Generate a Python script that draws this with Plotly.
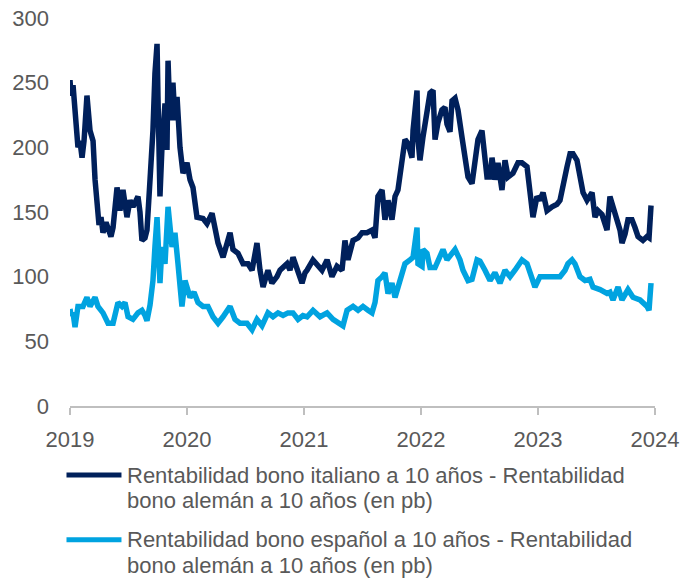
import plotly.graph_objects as go

# Decimal-year positions and values (pb)
t_italia = [2019.000, 2019.009, 2019.026, 2019.043, 2019.060, 2019.068, 2019.085, 2019.103, 2019.120, 2019.145,
            2019.171, 2019.197, 2019.214, 2019.231, 2019.248, 2019.265, 2019.282, 2019.308, 2019.325, 2019.350,
            2019.368, 2019.402, 2019.427, 2019.453, 2019.487, 2019.513, 2019.538, 2019.581, 2019.598, 2019.615,
            2019.641, 2019.658, 2019.684, 2019.709, 2019.726, 2019.744, 2019.752, 2019.769, 2019.786, 2019.812,
            2019.829, 2019.838, 2019.855, 2019.880, 2019.897, 2019.915, 2019.940, 2019.966, 2020.000, 2020.026,
            2020.051, 2020.085, 2020.137, 2020.171, 2020.214, 2020.239, 2020.265, 2020.308, 2020.368, 2020.393,
            2020.436, 2020.479, 2020.521, 2020.556, 2020.598, 2020.624, 2020.650, 2020.692, 2020.726, 2020.769,
            2020.795, 2020.855, 2020.880, 2020.906, 2020.949, 2020.983, 2021.009, 2021.026, 2021.077, 2021.120,
            2021.154, 2021.197, 2021.239, 2021.282, 2021.325, 2021.350, 2021.376, 2021.419, 2021.462, 2021.496,
            2021.538, 2021.581, 2021.607, 2021.632, 2021.667, 2021.692, 2021.718, 2021.752, 2021.778, 2021.803,
            2021.838, 2021.863, 2021.889, 2021.923, 2021.932, 2021.966, 2021.974, 2021.991, 2022.017, 2022.051,
            2022.077, 2022.103, 2022.120, 2022.145, 2022.179, 2022.205, 2022.222, 2022.248, 2022.265, 2022.291,
            2022.316, 2022.350, 2022.376, 2022.402, 2022.436, 2022.462, 2022.487, 2022.521, 2022.547, 2022.564,
            2022.590, 2022.607, 2022.632, 2022.658, 2022.692, 2022.718, 2022.744, 2022.786, 2022.829, 2022.863,
            2022.906, 2022.932, 2022.957, 2022.991, 2023.017, 2023.043, 2023.077, 2023.120, 2023.162, 2023.188,
            2023.214, 2023.248, 2023.274, 2023.299, 2023.333, 2023.359, 2023.385, 2023.419, 2023.462, 2023.487,
            2023.513, 2023.547, 2023.590, 2023.615, 2023.641, 2023.675, 2023.701, 2023.718, 2023.744, 2023.769,
            2023.803, 2023.829, 2023.855, 2023.897, 2023.932, 2023.949, 2023.966]
v_italia = [252, 240, 248, 230, 216, 200, 205, 192, 205, 240,
            213, 205, 175, 151, 140, 146, 134, 142, 136, 131,
            138, 169, 151, 167, 146, 159, 154, 162, 150, 128,
            130, 136, 175, 213, 257, 280, 239, 162, 200, 234,
            198, 267, 221, 250, 221, 239, 200, 180, 188, 175,
            169, 146, 145, 141, 149, 136, 126, 115, 134, 121,
            118, 110, 110, 105, 126, 105, 92, 105, 95, 100,
            105, 110, 105, 115, 105, 95, 103, 105, 113, 108,
            105, 113, 100, 108, 105, 128, 113, 128, 130, 134,
            134, 136, 130, 162, 167, 144, 159, 144, 162, 167,
            188, 206, 203, 192, 213, 244, 206, 190, 208, 226,
            242, 244, 206, 219, 229, 231, 218, 212, 236, 238,
            229, 208, 192, 177, 172, 192, 206, 213, 195, 177,
            177, 192, 175, 188, 167, 190, 177, 180, 188, 188,
            185, 165, 146, 162, 159, 165, 151, 154, 156, 159,
            172, 185, 195, 195, 190, 177, 165, 159, 165, 146,
            151, 148, 136, 162, 154, 146, 136, 126, 133, 144,
            144, 138, 131, 128, 131, 130, 155]

t_espana = [2019.000, 2019.009, 2019.026, 2019.043, 2019.068, 2019.111, 2019.145, 2019.171, 2019.214, 2019.239,
            2019.282, 2019.325, 2019.368, 2019.410, 2019.444, 2019.470, 2019.496, 2019.538, 2019.581, 2019.615,
            2019.641, 2019.658, 2019.684, 2019.709, 2019.726, 2019.744, 2019.769, 2019.786, 2019.812, 2019.838,
            2019.872, 2019.897, 2019.923, 2019.957, 2019.983, 2020.026, 2020.060, 2020.094, 2020.137, 2020.179,
            2020.222, 2020.265, 2020.308, 2020.368, 2020.410, 2020.453, 2020.513, 2020.556, 2020.598, 2020.641,
            2020.692, 2020.735, 2020.778, 2020.821, 2020.863, 2020.906, 2020.949, 2020.991, 2021.026, 2021.077,
            2021.137, 2021.197, 2021.248, 2021.308, 2021.333, 2021.368, 2021.419, 2021.462, 2021.504, 2021.547,
            2021.581, 2021.607, 2021.632, 2021.667, 2021.692, 2021.718, 2021.752, 2021.778, 2021.803, 2021.838,
            2021.863, 2021.906, 2021.932, 2021.966, 2021.974, 2022.009, 2022.017, 2022.051, 2022.077, 2022.120,
            2022.145, 2022.188, 2022.222, 2022.265, 2022.291, 2022.333, 2022.359, 2022.402, 2022.436, 2022.479,
            2022.504, 2022.547, 2022.590, 2022.632, 2022.675, 2022.718, 2022.761, 2022.803, 2022.863, 2022.906,
            2022.949, 2022.974, 2023.017, 2023.060, 2023.128, 2023.188, 2023.231, 2023.256, 2023.291, 2023.316,
            2023.359, 2023.402, 2023.444, 2023.470, 2023.530, 2023.590, 2023.615, 2023.641, 2023.684, 2023.718,
            2023.769, 2023.812, 2023.872, 2023.932, 2023.949, 2023.966]
v_espana = [75, 70, 72, 61, 77, 77, 84, 77, 84, 77,
            72, 64, 64, 80, 77, 80, 69, 67, 72, 74,
            70, 66, 78, 97, 123, 146, 95, 123, 110, 154,
            123, 134, 110, 77, 97, 84, 88, 80, 77, 77,
            69, 64, 69, 77, 67, 64, 64, 59, 67, 62,
            72, 69, 72, 70, 72, 72, 67, 70, 69, 74,
            69, 72, 67, 64, 62, 74, 77, 74, 77, 74,
            72, 80, 97, 100, 103, 87, 95, 84, 92, 100,
            110, 113, 115, 138, 110, 108, 121, 118, 107, 107,
            113, 121, 113, 118, 121, 113, 105, 97, 98, 113,
            112, 105, 97, 103, 95, 105, 100, 105, 113, 110,
            97, 92, 100, 100, 100, 100, 105, 110, 113, 110,
            100, 97, 98, 92, 90, 87, 88, 82, 92, 82,
            90, 84, 82, 77, 74, 95]

years = [2019, 2020, 2021, 2022, 2023, 2024]
year_labels = ["2019", "2020", "2021", "2022", "2023", "2024"]
y_ticks = [0, 50, 100, 150, 200, 250, 300]

name_it = ["Rentabilidad bono italiano a 10 años - Rentabilidad", "bono alemán a 10 años (en pb)"]
name_es = ["Rentabilidad bono español a 10 años - Rentabilidad", "bono alemán a 10 años (en pb)"]

DARK = "#00205b"
LIGHT = "#00a3e0"
GREY = "#595959"
FONT = "Liberation Sans, Arial, sans-serif"

fig = go.Figure()
fig.add_trace(go.Scatter(x=t_italia, y=v_italia, mode="lines",
                         line=dict(color=DARK, width=5.5), name=" ".join(name_it), showlegend=False))
fig.add_trace(go.Scatter(x=t_espana, y=v_espana, mode="lines",
                         line=dict(color=LIGHT, width=5.5), name=" ".join(name_es), showlegend=False))

# custom legend (lines + text)
leg_rows = [(name_it, DARK, -0.178, -0.243), (name_es, LIGHT, -0.345, -0.412)]
for names, col, y1, y2 in leg_rows:
    fig.add_shape(type="line", xref="paper", yref="paper", x0=-0.006, x1=0.088, y0=y1, y1=y1,
                  line=dict(color=col, width=5))
    for txt, yy in zip(names, (y1, y2)):
        fig.add_annotation(text=txt, xref="paper", yref="paper", x=0.094, y=yy,
                           xanchor="left", yanchor="middle", showarrow=False,
                           font=dict(family=FONT, size=22, color=GREY))

# page body has an 8px margin: size the figure so the plot area lands where the reference has it
fig.update_layout(
    width=684, height=571,
    margin=dict(l=62, r=37, t=10, b=173, autoexpand=False),
    paper_bgcolor="white", plot_bgcolor="white",
    font=dict(family=FONT, size=22, color=GREY),
    showlegend=False,
)
fig.update_xaxes(range=[2019, 2024], tickvals=years, ticktext=year_labels, automargin=False,
                 showgrid=False, zeroline=False, showline=True, linecolor="#bfbfbf", linewidth=2,
                 ticks="outside", ticklen=7, tickwidth=2, tickcolor="#bfbfbf",
                 ticklabelstandoff=6, ticklabeloverflow="allow", tickfont=dict(size=22, color=GREY))
fig.update_yaxes(range=[0, 300], tickvals=y_ticks, automargin=False,
                 showgrid=False, zeroline=False, showline=False,
                 ticks="", ticklabelstandoff=20, ticklabeloverflow="allow",
                 tickfont=dict(size=22, color=GREY))

fig.write_html("out.html")
